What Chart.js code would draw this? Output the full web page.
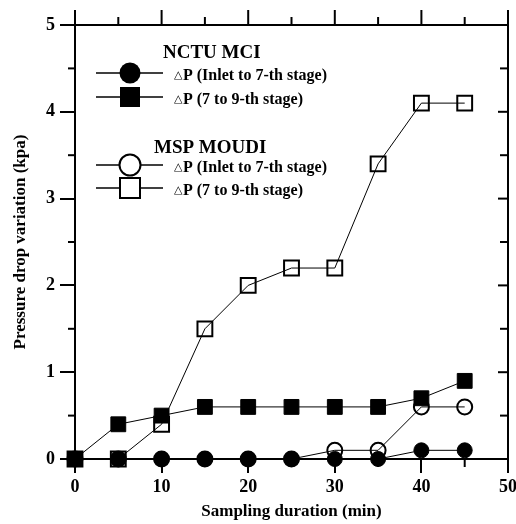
<!DOCTYPE html>
<html>
<head>
<meta charset="utf-8">
<script src="https://cdn.jsdelivr.net/npm/chart.js@4.4.1/dist/chart.umd.min.js"></script>
<style>
  html, body { margin: 0; padding: 0; background: #fff; }
  #wrap { width: 516px; height: 524px; }
</style>
</head>
<body>
<div id="wrap"><canvas id="grafico" width="516" height="524"></canvas></div>
<script>
// tempo de amostragem (min)
const tempos = [0, 5, 10, 15, 20, 25, 30, 35, 40, 45];

// NCTU MCI
const mciEntrada7 = [0, 0, 0, 0, 0, 0, 0, 0, 0.1, 0.1];
const mci7a9 = [0, 0.4, 0.5, 0.6, 0.6, 0.6, 0.6, 0.6, 0.7, 0.9];

// MSP MOUDI
const moudiEntrada7 = [0, 0, 0, 0, 0, 0, 0.1, 0.1, 0.6, 0.6];
const moudi7a9 = [0, 0, 0.4, 1.5, 2.0, 2.2, 2.2, 3.4, 4.1, 4.1];

const ticksX = [0, 10, 20, 30, 40, 50];
const ticksY = [0, 1, 2, 3, 4, 5];

const FONTE = "'Liberation Serif', 'Times New Roman', serif";

function pontos(valores) {
  return tempos.map((t, i) => ({ x: t, y: valores[i] }));
}

function serie(valores, estilo, cheio) {
  return {
    data: pontos(valores),
    showLine: true,
    clip: false,
    borderColor: '#000',
    borderWidth: 1,
    pointStyle: estilo,
    pointRadius: estilo === 'rect' ? 10.5 : 7.5,
    pointBorderWidth: cheio ? 1 : 2,
    pointBorderColor: '#000',
    pointBackgroundColor: cheio ? '#000' : 'rgba(0,0,0,0)',
    pointHoverRadius: 0
  };
}

// eixos de cima e da direita, ticks menores e legenda
const molduraPlugin = {
  id: 'moldura',
  afterDraw(chart) {
    const { ctx, chartArea: a, scales } = chart;
    const sx = scales.x, sy = scales.y;
    ctx.save();
    ctx.strokeStyle = '#000';
    ctx.lineWidth = 2;
    ctx.lineCap = 'butt';

    const linha = (x1, y1, x2, y2) => {
      ctx.beginPath();
      ctx.moveTo(x1, y1);
      ctx.lineTo(x2, y2);
      ctx.stroke();
    };

    // topo e direita
    linha(a.left - 1, a.top, a.right + 1, a.top);
    linha(a.right, a.top - 15, a.right, a.bottom);

    for (let v = 0; v <= 50; v += 5) {
      const px = sx.getPixelForValue(v);
      const maior = v % 10 === 0;
      linha(px, a.top, px, a.top - (maior ? 15 : 8));
      if (!maior) linha(px, a.bottom, px, a.bottom + 8);
    }
    for (let v = 0; v <= 5; v += 0.5) {
      const py = sy.getPixelForValue(v);
      const maior = Number.isInteger(v);
      linha(a.right, py, a.right - (maior ? 10 : 8), py);
      if (!maior) linha(a.left, py, a.left - 7, py);
    }

    // legenda
    const lx1 = 96, lx2 = 163, mx = 130, tx = 174;
    const linhas = [
      { y: 73, estilo: 'circle', cheio: true, texto: 'P (Inlet to 7-th stage)' },
      { y: 97, estilo: 'rect', cheio: true, texto: 'P (7 to 9-th stage)' },
      { y: 165, estilo: 'circle', cheio: false, texto: 'P (Inlet to 7-th stage)' },
      { y: 188, estilo: 'rect', cheio: false, texto: 'P (7 to 9-th stage)' }
    ];

    ctx.fillStyle = '#000';
    ctx.textBaseline = 'alphabetic';
    ctx.textAlign = 'left';
    ctx.font = `bold 19px ${FONTE}`;
    ctx.fillText('NCTU MCI', 163, 58);
    ctx.fillText('MSP MOUDI', 154, 153);

    linhas.forEach(l => {
      ctx.lineWidth = 1.5;
      linha(lx1, l.y, lx2, l.y);
      ctx.lineWidth = 2;
      ctx.beginPath();
      if (l.estilo === 'circle') {
        ctx.arc(mx, l.y, 10.5, 0, Math.PI * 2);
      } else {
        ctx.rect(mx - 10, l.y - 10, 20, 20);
      }
      if (l.cheio) {
        ctx.fill();
      } else {
        ctx.fillStyle = '#fff';
        ctx.fill();
        ctx.fillStyle = '#000';
        ctx.stroke();
      }
      ctx.font = `11px 'DejaVu Sans', sans-serif`;
      ctx.fillText('\u25B3', tx, l.y + 5);
      ctx.font = `bold 16px ${FONTE}`;
      ctx.fillText(l.texto, tx + 9, l.y + 7);
    });

    ctx.restore();
  }
};

new Chart(document.getElementById('grafico'), {
  type: 'scatter',
  data: {
    datasets: [
      serie(mciEntrada7, 'circle', true),
      serie(mci7a9, 'rect', true),
      serie(moudiEntrada7, 'circle', false),
      serie(moudi7a9, 'rect', false)
    ]
  },
  options: {
    responsive: false,
    animation: false,
    events: [],
    layout: { autoPadding: false, padding: { top: 25, right: 8, left: 0, bottom: 0 } },
    plugins: {
      legend: { display: false },
      tooltip: { enabled: false }
    },
    scales: {
      x: {
        type: 'linear',
        min: 0,
        max: 50,
        afterBuildTicks: s => { s.ticks = ticksX.map(v => ({ value: v })); },
        afterFit: s => { s.height = 65; s.paddingLeft = 0; s.paddingRight = 0; },
        ticks: {
          color: '#000',
          padding: 4,
          maxRotation: 0,
          font: { family: FONTE, size: 18, weight: 'bold' }
        },
        grid: {
          drawOnChartArea: false,
          color: '#000',
          lineWidth: 2,
          tickLength: 14
        },
        border: { color: '#000', width: 2 },
        title: {
          display: true,
          text: 'Sampling duration (min)',
          color: '#000',
          padding: { top: 0, bottom: 2 },
          font: { family: FONTE, size: 17, weight: 'bold' }
        }
      },
      y: {
        type: 'linear',
        min: 0,
        max: 5,
        afterBuildTicks: s => { s.ticks = ticksY.map(v => ({ value: v })); },
        afterFit: s => { s.width = 75; s.paddingTop = 0; s.paddingBottom = 0; },
        ticks: {
          color: '#000',
          padding: 5,
          font: { family: FONTE, size: 18, weight: 'bold' }
        },
        grid: {
          drawOnChartArea: false,
          color: '#000',
          lineWidth: 2,
          tickLength: 15
        },
        border: { color: '#000', width: 2 },
        title: {
          display: true,
          text: 'Pressure drop variation (kpa)',
          color: '#000',
          padding: { top: 10, bottom: 0 },
          font: { family: FONTE, size: 17, weight: 'bold' }
        }
      }
    }
  },
  plugins: [molduraPlugin]
});
</script>
</body>
</html>
